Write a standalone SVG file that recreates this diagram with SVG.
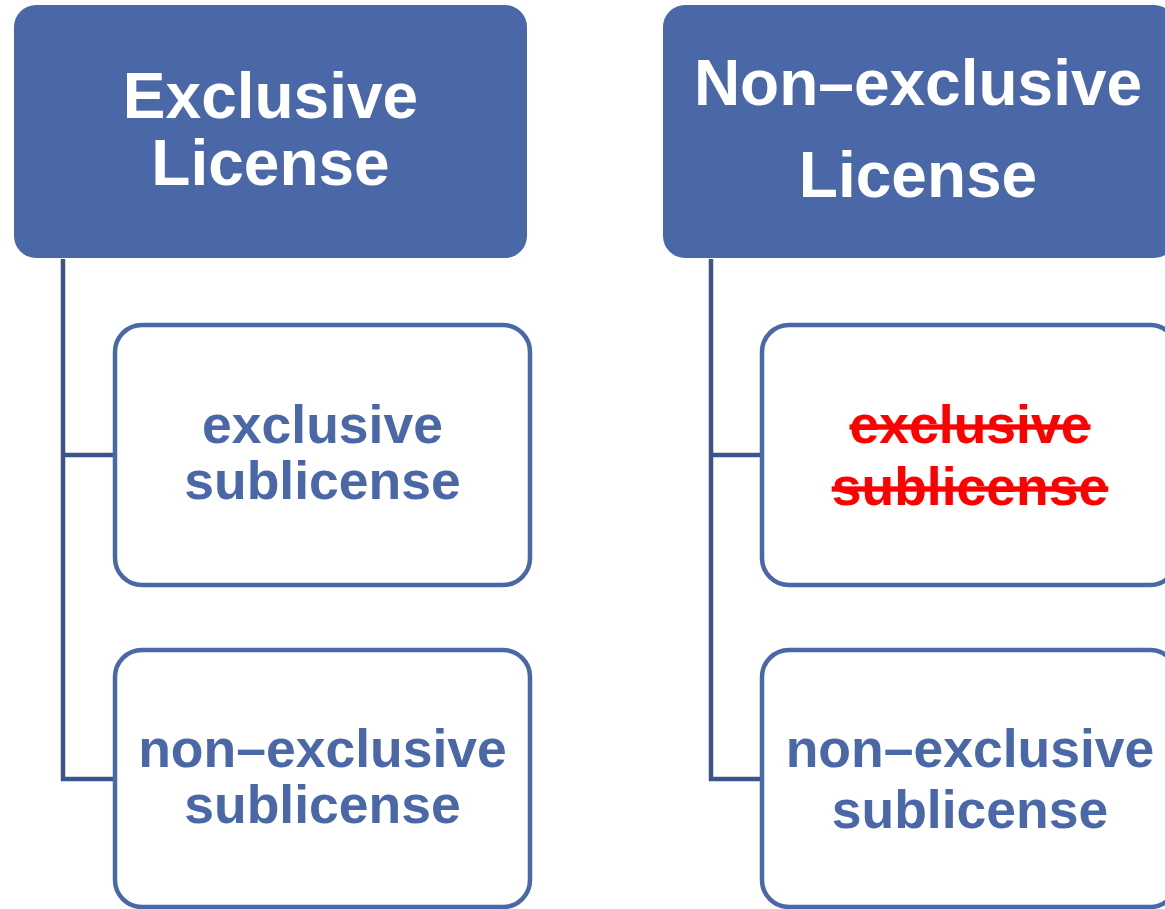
<svg xmlns="http://www.w3.org/2000/svg" width="1165" height="909" viewBox="0 0 1165 909">
<style>
.top{fill:#4A68A8;}
.child{fill:#FFFFFF;stroke:#4A68A8;stroke-width:4.5;}
.conn{fill:none;stroke:#3C5489;stroke-width:4.5;stroke-linejoin:miter;}
.tt{font-family:"Liberation Sans",Arial,sans-serif;font-weight:bold;font-size:64px;fill:#FFFFFF;text-anchor:middle;}
.ct{font-family:"Liberation Sans",Arial,sans-serif;font-weight:bold;font-size:53.5px;fill:#4A68A8;text-anchor:middle;}
.st{fill:#FF0000;text-decoration:line-through;}
</style>
<rect width="1165" height="909" fill="#FFFFFF"/>
<g id="connectors">
<path class="conn" d="M63,259 V779 H115 M63,455 H115"/>
<path class="conn" d="M711,259 V779 H762 M711,455 H762"/>
</g>
<g id="exclusive-license">
<rect class="top" x="14" y="5" width="513" height="253" rx="22"/>
<text class="tt" x="270.5" y="118">Exclusive</text>
<text class="tt" x="270.5" y="185">License</text>
</g>
<g id="non-exclusive-license">
<rect class="top" x="663" y="5" width="513" height="253" rx="22"/>
<text class="tt" x="918" y="105">Non–exclusive</text>
<text class="tt" x="918" y="197">License</text>
</g>
<g id="left-exclusive-sublicense">
<rect class="child" x="115" y="325" width="415" height="260" rx="27"/>
<text class="ct" x="322.5" y="443">exclusive</text>
<text class="ct" x="322.5" y="499">sublicense</text>
</g>
<g id="left-non-exclusive-sublicense">
<rect class="child" x="115" y="650" width="415" height="257" rx="27"/>
<text class="ct" x="322.5" y="767">non–exclusive</text>
<text class="ct" x="322.5" y="823">sublicense</text>
</g>
<g id="right-exclusive-sublicense">
<rect class="child" x="762" y="325" width="415" height="260" rx="27"/>
<text class="ct st" x="970" y="443">exclusive</text>
<text class="ct st" x="970" y="505">sublicense</text>
</g>
<g id="right-non-exclusive-sublicense">
<rect class="child" x="762" y="650" width="415" height="257" rx="27"/>
<text class="ct" x="970" y="767">non–exclusive</text>
<text class="ct" x="970" y="828">sublicense</text>
</g>
</svg>
